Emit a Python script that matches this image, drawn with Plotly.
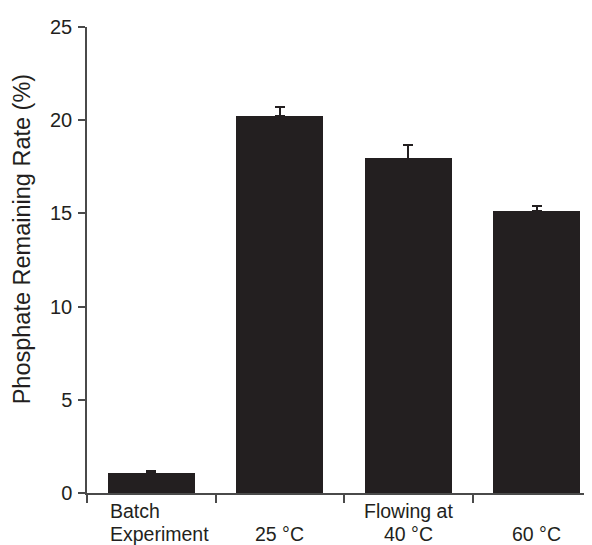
import plotly.graph_objects as go

# Data
categories = ["Batch Experiment", "25 °C", "40 °C", "60 °C"]
label_line1 = ["Batch", "", "Flowing at", ""]
label_line2 = ["Experiment", "25 °C", "40 °C", "60 °C"]
values = [1.10, 20.25, 17.95, 15.12]
errors = [0.08, 0.46, 0.73, 0.27]
y_ticks = [0, 5, 10, 15, 20, 25]

DARK = "#231f20"
AXIS = "#4a4a4a"
FONT = "Liberation Sans, Arial, Helvetica, sans-serif"

xpos = list(range(len(categories)))

fig = go.Figure()
fig.add_trace(go.Bar(
    x=xpos, y=values, width=0.68,
    marker=dict(color=DARK, line=dict(width=0)),
    error_y=dict(type="data", array=errors, arrayminus=[0] * len(errors),
                 symmetric=False, color=DARK, thickness=1.6, width=5),
    showlegend=False,
))

annotations = []
for i, (l1, l2) in enumerate(zip(label_line1, label_line2)):
    left = (i == 0)
    xa = i - 0.335 if left else i
    anchor = "left" if left else "center"
    if l1:
        annotations.append(dict(x=xa, y=0, xref="x", yref="paper", text=l1,
                                showarrow=False, xanchor=anchor, yanchor="middle",
                                yshift=-18, font=dict(size=19.5, color=DARK, family=FONT)))
    annotations.append(dict(x=xa, y=0, xref="x", yref="paper", text=l2,
                            showarrow=False, xanchor=anchor, yanchor="middle",
                            yshift=-41, font=dict(size=19.5, color=DARK, family=FONT)))

annotations.append(dict(x=-0.127, y=0.544, xref="paper", yref="paper",
                        text="Phosphate Remaining Rate (%)", textangle=-90,
                        showarrow=False, xanchor="center", yanchor="middle",
                        font=dict(size=23.5, color=DARK, family=FONT)))

fig.update_layout(
    width=592, height=545,
    margin=dict(l=79, r=8, t=15, b=60),
    paper_bgcolor="white", plot_bgcolor="white",
    font=dict(family=FONT, color=DARK, size=20),
    bargap=0,
    annotations=annotations,
    xaxis=dict(range=[-0.5, 3.43], tickmode="array", tickvals=[-0.5, 0.5, 1.5, 2.5],
               ticktext=["", "", "", ""], ticks="outside", ticklen=8, tickwidth=1.5,
               tickcolor=AXIS, showline=True, linecolor=AXIS, linewidth=1.5,
               showgrid=False, zeroline=False, fixedrange=True),
    yaxis=dict(range=[0, 25], tickmode="array", tickvals=y_ticks,
               ticktext=[str(t) for t in y_ticks], ticks="outside", ticklen=7,
               tickwidth=1.5, tickcolor=AXIS, showline=True, linecolor=AXIS,
               linewidth=1.5, showgrid=False, zeroline=False,
               tickfont=dict(size=20, color=DARK, family=FONT), ticklabelstandoff=2),
)

fig.write_html("out.html")
